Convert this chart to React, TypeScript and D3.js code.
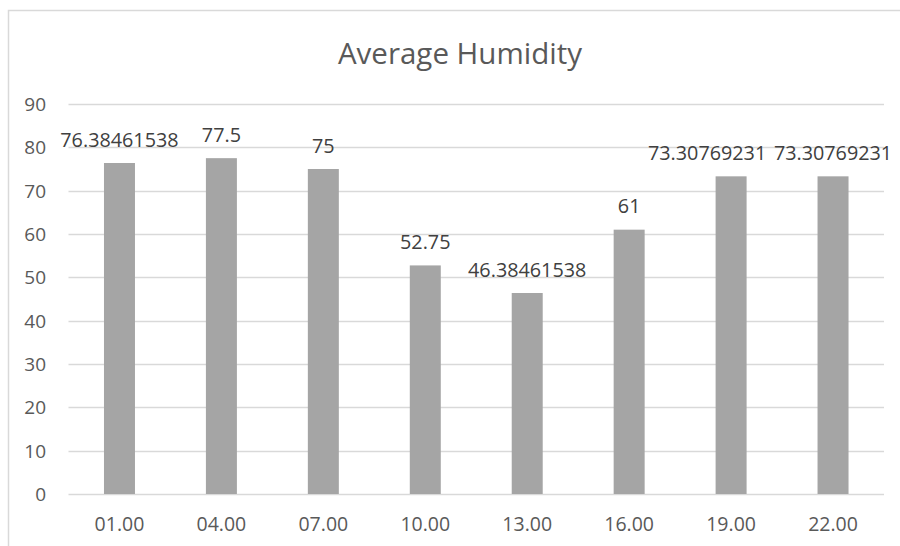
import React, { useEffect, useRef } from 'react';
import * as d3 from 'd3';

const hours = ['01.00', '04.00', '07.00', '10.00', '13.00', '16.00', '19.00', '22.00'];
const humidity = [76.38461538, 77.5, 75, 52.75, 46.38461538, 61, 73.30769231, 73.30769231];
const yTicks = [0, 10, 20, 30, 40, 50, 60, 70, 80, 90];

const W = 900;
const H = 546;

export default function App() {
  const svgRef = useRef<SVGSVGElement>(null);

  useEffect(() => {
    if (!svgRef.current) return;
    const svg = d3.select(svgRef.current);
    svg.selectAll('*').remove();

    const left = 68.5;
    const right = 884;
    const top = 104;
    const bottom = 494;
    const font = '"Open Sans", sans-serif';

    const x = d3.scaleBand<string>()
      .domain(hours)
      .range([left, right])
      .paddingInner(0.696)
      .paddingOuter(0.348);
    const y = d3.scaleLinear().domain([0, 90]).range([bottom, top]);

    // chart border
    svg.append('rect')
      .attr('x', 8.5)
      .attr('y', 10.5)
      .attr('width', W)
      .attr('height', H)
      .attr('fill', 'none')
      .attr('stroke', '#d9d9d9')
      .attr('stroke-width', 1.5);

    svg.append('text')
      .attr('x', 460)
      .attr('y', 64)
      .attr('text-anchor', 'middle')
      .attr('fill', '#595959')
      .attr('font-family', font)
      .attr('font-size', '29.5px')
      .text('Average Humidity');

    // gridlines
    svg.append('g')
      .selectAll('line')
      .data(yTicks)
      .enter()
      .append('line')
      .attr('x1', left)
      .attr('x2', right)
      .attr('y1', d => Math.round(y(d)) + 0.5)
      .attr('y2', d => Math.round(y(d)) + 0.5)
      .attr('stroke', '#d9d9d9')
      .attr('stroke-width', 1.5);

    svg.append('g')
      .selectAll('text')
      .data(yTicks)
      .enter()
      .append('text')
      .attr('x', 46)
      .attr('y', d => y(d))
      .attr('dy', '0.36em')
      .attr('text-anchor', 'end')
      .attr('fill', '#595959')
      .attr('font-family', font)
      .attr('font-size', '19px')
      .text(d => d);

    // bars
    svg.append('g')
      .selectAll('rect')
      .data(humidity)
      .enter()
      .append('rect')
      .attr('x', (d, i) => x(hours[i]) as number)
      .attr('y', d => y(d))
      .attr('width', x.bandwidth())
      .attr('height', d => bottom - y(d))
      .attr('fill', '#a5a5a5');

    // data labels (the 19.00 label sits nudged left, as in the original)
    svg.append('g')
      .selectAll('text')
      .data(humidity)
      .enter()
      .append('text')
      .attr('x', (d, i) => (x(hours[i]) as number) + x.bandwidth() / 2 + (i === 6 ? -24 : 0))
      .attr('y', d => y(d) - 16.5)
      .attr('text-anchor', 'middle')
      .attr('fill', '#404040')
      .attr('font-family', font)
      .attr('font-size', '19.8px')
      .text(d => String(d));

    // x labels
    svg.append('g')
      .selectAll('text')
      .data(hours)
      .enter()
      .append('text')
      .attr('x', d => (x(d) as number) + x.bandwidth() / 2)
      .attr('y', 531)
      .attr('text-anchor', 'middle')
      .attr('fill', '#595959')
      .attr('font-family', font)
      .attr('font-size', '19.5px')
      .text(d => d);
  }, []);

  return (
    <svg
      ref={svgRef}
      width={W}
      height={H}
      style={{ position: 'absolute', left: 0, top: 0, background: '#fff', display: 'block' }}
    />
  );
}
